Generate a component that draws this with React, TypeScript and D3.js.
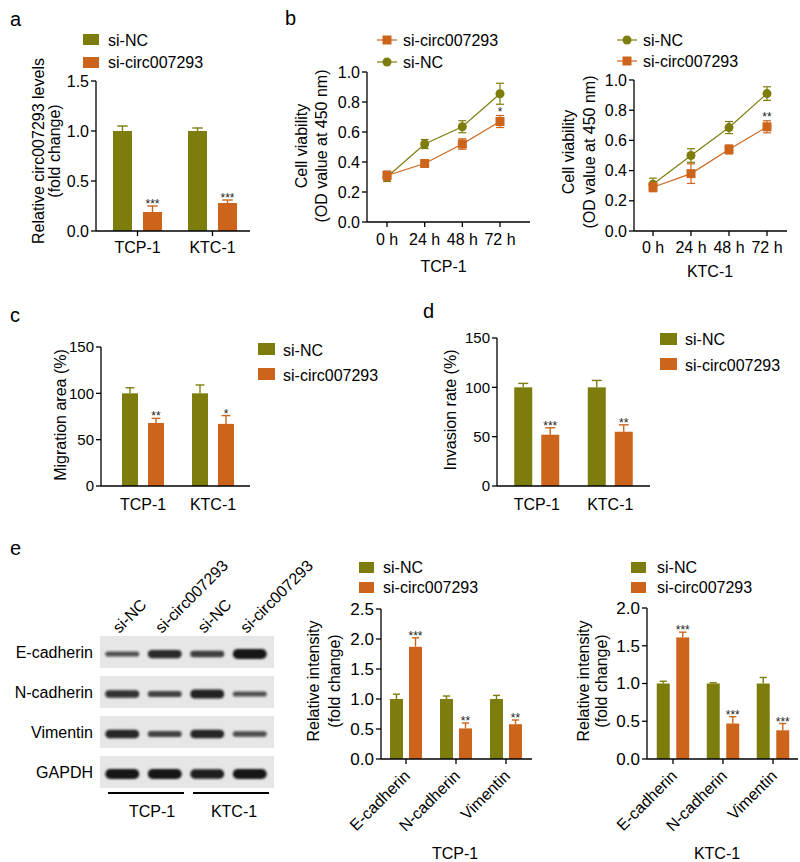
import React from "react";
import * as d3 from "d3";

const FONT = "'Liberation Sans', Arial, Helvetica, sans-serif";
const OLIVE = "#7d7d0e";
const ORANGE = "#cc651b";

// ---------- data ----------
const seriesNames = ["si-NC", "si-circ007293"];
const cellLines = ["TCP-1", "KTC-1"];

// a: relative circ007293 levels
const relCircNC = [1.0, 1.0];
const relCircNCErr = [0.05, 0.03];
const relCircKD = [0.19, 0.28];
const relCircKDErr = [0.06, 0.03];
const relCircStars = ["***", "***"];

// b: CCK-8 viability
const timeLabels = ["0 h", "24 h", "48 h", "72 h"];
const tcpViabNC = [0.3, 0.52, 0.635, 0.855];
const tcpViabNCErr = [0.03, 0.03, 0.04, 0.07];
const tcpViabKD = [0.31, 0.39, 0.52, 0.67];
const tcpViabKDErr = [0.03, 0.01, 0.035, 0.04];
const ktcViabNC = [0.31, 0.5, 0.685, 0.91];
const ktcViabNCErr = [0.04, 0.045, 0.04, 0.045];
const ktcViabKD = [0.29, 0.38, 0.54, 0.69];
const ktcViabKDErr = [0.03, 0.065, 0.03, 0.04];

// c: migration
const migrationNC = [100, 100];
const migrationNCErr = [6, 9];
const migrationKD = [68, 67];
const migrationKDErr = [5, 9];
const migrationStars = ["**", "*"];

// d: invasion
const invasionNC = [100, 100];
const invasionNCErr = [4, 7];
const invasionKD = [52, 55];
const invasionKDErr = [7, 7];
const invasionStars = ["***", "**"];

// e: western blot quantification
const emtMarkers = ["E-cadherin", "N-cadherin", "Vimentin"];
const tcpIntNC = [1.0, 1.0, 1.0];
const tcpIntNCErr = [0.08, 0.05, 0.06];
const tcpIntKD = [1.87, 0.51, 0.58];
const tcpIntKDErr = [0.15, 0.09, 0.07];
const tcpIntStars = ["***", "**", "**"];
const ktcIntNC = [1.0, 1.0, 1.0];
const ktcIntNCErr = [0.03, 0.01, 0.08];
const ktcIntKD = [1.61, 0.47, 0.38];
const ktcIntKDErr = [0.07, 0.09, 0.09];
const ktcIntStars = ["***", "***", "***"];

// e: blot
const blotRows = ["E-cadherin", "N-cadherin", "Vimentin", "GAPDH"];
const blotLanes = ["si-NC", "si-circ007293", "si-NC", "si-circ007293"];
const eCadBand = [0.3, 0.75, 0.5, 1.0];
const nCadBand = [0.65, 0.45, 0.85, 0.3];
const vimBand = [0.8, 0.45, 0.8, 0.35];
const gapdhBand = [1.0, 1.0, 0.9, 1.0];
const blotBands = [eCadBand, nCadBand, vimBand, gapdhBand];

// ---------- helpers ----------
function YAxis({ x, scale, ticks, fmt, fs = 16 }: any) {
  const [r0, r1] = scale.range();
  return (
    <g>
      <line x1={x} x2={x} y1={r0} y2={r1} stroke="#000" strokeWidth={1.3} />
      {ticks.map((t: number) => (
        <g key={t}>
          <line x1={x - 5} x2={x} y1={scale(t)} y2={scale(t)} stroke="#000" strokeWidth={1.3} />
          <text x={x - 7} y={scale(t)} dy="0.35em" textAnchor="end" fontSize={fs}>
            {fmt(t)}
          </text>
        </g>
      ))}
    </g>
  );
}

function VLabel({ x, y, text }: any) {
  return (
    <text transform={`translate(${x},${y}) rotate(-90)`} dy="0.35em" textAnchor="middle" fontSize={16}>
      {text}
    </text>
  );
}

function SquareLegend({ x, y1, y2, w, h, textX, b1, b2 }: any) {
  return (
    <g>
      <rect x={x} y={y1} width={w} height={h} fill={OLIVE} />
      <rect x={x} y={y2} width={w} height={h} fill={ORANGE} />
      <text x={textX} y={b1} fontSize={16}>{seriesNames[0]}</text>
      <text x={textX} y={b2} fontSize={16}>{seriesNames[1]}</text>
    </g>
  );
}

function BarChart(p: any) {
  const y = d3.scaleLinear().domain([0, p.yMax]).range([p.yBottom, p.yTop]);
  const xb = d3.scaleBand().domain(p.groups).range(p.bandRange).padding(0);
  const center = (g: string) => (xb(g) as number) + xb.bandwidth() / 2;
  const series = [
    { vals: p.nc, errs: p.ncErr, color: OLIVE, off: -p.barStep / 2, stars: null },
    { vals: p.kd, errs: p.kdErr, color: ORANGE, off: p.barStep / 2, stars: p.stars },
  ];
  const capW = p.barW * 0.55;
  return (
    <g>
      {series.map((s, si) =>
        p.groups.map((g: string, i: number) => {
          const cx = center(g) + s.off;
          const top = y(s.vals[i]);
          const et = y(s.vals[i] + s.errs[i]);
          return (
            <g key={si + "-" + i}>
              <rect x={cx - p.barW / 2} y={top} width={p.barW} height={p.yBottom - top} fill={s.color} />
              <line x1={cx} x2={cx} y1={top} y2={et} stroke={s.color} strokeWidth={1.4} />
              <line x1={cx - capW / 2} x2={cx + capW / 2} y1={et} y2={et} stroke={s.color} strokeWidth={1.4} />
              {s.stars && (
                <text x={cx} y={et + 2} textAnchor="middle" fontSize={12} fill="#222">
                  {s.stars[i]}
                </text>
              )}
            </g>
          );
        })
      )}
      <YAxis x={p.axisX} scale={y} ticks={p.yTicks} fmt={p.fmt} fs={p.tickFs || 16} />
      <line x1={p.axisX} x2={p.axisEnd} y1={p.yBottom} y2={p.yBottom} stroke="#000" strokeWidth={1.3} />
      {p.groups.map((g: string) => (
        <g key={g}>
          {p.xTicks && (
            <line x1={center(g)} x2={center(g)} y1={p.yBottom} y2={p.yBottom + 5} stroke="#000" strokeWidth={1.3} />
          )}
          {p.rotate ? (
            <text
              transform={`translate(${center(g) + 5},${p.yBottom + 18}) rotate(-45)`}
              textAnchor="end"
              fontSize={16}
            >
              {g}
            </text>
          ) : (
            <text x={center(g)} y={p.labelBaseline} textAnchor="middle" fontSize={16}>
              {g}
            </text>
          )}
        </g>
      ))}
    </g>
  );
}

function LineChart(p: any) {
  const y = d3.scaleLinear().domain([0, 1]).range([p.yBottom, p.yTop]);
  const x = d3.scalePoint().domain(timeLabels).range([p.xStart, p.xEnd]);
  const line = d3
    .line<number>()
    .x((_, i) => x(timeLabels[i]) as number)
    .y((d) => y(d));
  const series = [
    { vals: p.nc, errs: p.ncErr, color: OLIVE, shape: "circle" },
    { vals: p.kd, errs: p.kdErr, color: ORANGE, shape: "square" },
  ];
  return (
    <g>
      {series.map((s, si) => (
        <g key={si}>
          <path d={line(s.vals) as string} fill="none" stroke={s.color} strokeWidth={1.2} />
          {s.vals.map((v: number, i: number) => {
            const cx = x(timeLabels[i]) as number;
            const y1 = y(v - s.errs[i]);
            const y2 = y(v + s.errs[i]);
            return (
              <g key={i}>
                <line x1={cx} x2={cx} y1={y1} y2={y2} stroke={s.color} strokeWidth={1.2} />
                <line x1={cx - 4} x2={cx + 4} y1={y1} y2={y1} stroke={s.color} strokeWidth={1.2} />
                <line x1={cx - 4} x2={cx + 4} y1={y2} y2={y2} stroke={s.color} strokeWidth={1.2} />
                {s.shape === "circle" ? (
                  <circle cx={cx} cy={y(v)} r={4.5} fill={s.color} />
                ) : (
                  <rect x={cx - 4.5} y={y(v) - 4.5} width={9} height={9} fill={s.color} />
                )}
              </g>
            );
          })}
        </g>
      ))}
      <text
        x={x(timeLabels[3]) as number}
        y={y(p.kd[3] + p.kdErr[3])}
        textAnchor="middle"
        fontSize={12}
        fill="#222"
      >
        {p.star}
      </text>
      <YAxis x={p.axisX} scale={y} ticks={[0, 0.2, 0.4, 0.6, 0.8, 1.0]} fmt={d3.format(".1f")} />
      <line x1={p.axisX} x2={p.axisEnd} y1={p.yBottom} y2={p.yBottom} stroke="#000" strokeWidth={1.3} />
      {timeLabels.map((t) => (
        <g key={t}>
          <line x1={x(t) as number} x2={x(t) as number} y1={p.yBottom} y2={p.yBottom + 5} stroke="#000" strokeWidth={1.3} />
          <text x={x(t) as number} y={p.tickBaseline} textAnchor="middle" fontSize={16}>
            {t}
          </text>
        </g>
      ))}
      <text x={(p.xStart + p.xEnd) / 2} y={p.titleBaseline} textAnchor="middle" fontSize={16}>
        {p.title}
      </text>
    </g>
  );
}

function LineLegend({ x, textX, entries }: any) {
  return (
    <g>
      {entries.map((e: any, i: number) => (
        <g key={i}>
          <line x1={x - 10} x2={x + 10} y1={e.y} y2={e.y} stroke={e.color} strokeWidth={1.2} />
          {e.shape === "circle" ? (
            <circle cx={x} cy={e.y} r={4.5} fill={e.color} />
          ) : (
            <rect x={x - 4.5} y={e.y - 4.5} width={9} height={9} fill={e.color} />
          )}
          <text x={textX} y={e.y + 6} fontSize={16}>
            {e.label}
          </text>
        </g>
      ))}
    </g>
  );
}

function Blot() {
  const lanes = d3.scaleBand().domain(d3.range(4).map(String)).range([101, 271]).padding(0);
  const rows = d3.scaleBand().domain(blotRows).range([636, 788]).paddingInner(0.2);
  const laneC = (i: number) => (lanes(String(i)) as number) + lanes.bandwidth() / 2;
  return (
    <g>
      {blotRows.map((r, ri) => {
        const ry = rows(r) as number;
        const cy = ry + rows.bandwidth() / 2;
        return (
          <g key={r}>
            <rect x={100} y={ry} width={174} height={rows.bandwidth()} fill="#e6e6e6" />
            {blotBands[ri].map((s, li) => {
              const th = 3 + 7 * s;
              return (
                <rect
                  key={li}
                  x={laneC(li) - 17}
                  y={cy + 2 - th / 2}
                  width={34}
                  height={th}
                  rx={th / 2}
                  fill="#161616"
                  opacity={0.6 + 0.4 * s}
                  filter="url(#blur)"
                />
              );
            })}
            <text x={93} y={cy + 6} textAnchor="end" fontSize={16}>
              {r}
            </text>
          </g>
        );
      })}
      {blotLanes.map((l, i) => (
        <text key={i} transform={`translate(${laneC(i) - 3},634) rotate(-45)`} fontSize={16}>
          {l}
        </text>
      ))}
      <line x1={108} x2={184} y1={793} y2={793} stroke="#000" strokeWidth={2} />
      <line x1={193} x2={269} y1={793} y2={793} stroke="#000" strokeWidth={2} />
      <text x={152} y={817} textAnchor="middle" fontSize={16}>{cellLines[0]}</text>
      <text x={234} y={817} textAnchor="middle" fontSize={16}>{cellLines[1]}</text>
    </g>
  );
}

export default function App() {
  const f1 = d3.format(".1f");
  const f0 = d3.format("d");
  return (
    <svg
      width={800}
      height={862}
      style={{ position: "absolute", left: 0, top: 0, background: "#fff" }}
      fontFamily={FONT}
    >
      <defs>
        <filter id="blur" x="-20%" y="-100%" width="140%" height="300%">
          <feGaussianBlur stdDeviation="1.3" />
        </filter>
      </defs>
      <rect width={800} height={862} fill="#fff" />

      {/* panel labels */}
      <text x={10} y={26} fontSize={20}>a</text>
      <text x={285} y={25} fontSize={20}>b</text>
      <text x={10} y={322} fontSize={20}>c</text>
      <text x={423} y={318} fontSize={20}>d</text>
      <text x={10} y={555} fontSize={20}>e</text>

      {/* a */}
      <SquareLegend x={83} y1={34} y2={57} w={16} h={11} textX={108} b1={46} b2={68} />
      <VLabel x={38} y={151} text="Relative circ007293 levels" />
      <VLabel x={54} y={151} text="(fold change)" />
      <BarChart
        axisX={96} axisEnd={250} yBottom={231} yTop={81} yMax={1.5}
        yTicks={[0, 0.5, 1.0, 1.5]} fmt={f1} groups={cellLines} bandRange={[100, 250]}
        nc={relCircNC} ncErr={relCircNCErr} kd={relCircKD} kdErr={relCircKDErr} stars={relCircStars}
        barW={19} barStep={30} xTicks={true} labelBaseline={253}
      />

      {/* b left */}
      <LineLegend
        x={387} textX={403}
        entries={[
          { y: 40, color: ORANGE, shape: "square", label: seriesNames[1] },
          { y: 62, color: OLIVE, shape: "circle", label: seriesNames[0] },
        ]}
      />
      <VLabel x={301} y={146} text="Cell viability" />
      <VLabel x={321} y={146} text="(OD value at 450 nm)" />
      <LineChart
        axisX={367} axisEnd={530} yBottom={222} yTop={72} xStart={387} xEnd={500}
        nc={tcpViabNC} ncErr={tcpViabNCErr} kd={tcpViabKD} kdErr={tcpViabKDErr}
        star="*" title={cellLines[0]} tickBaseline={245} titleBaseline={272}
      />

      {/* b right */}
      <LineLegend
        x={627} textX={643}
        entries={[
          { y: 40, color: OLIVE, shape: "circle", label: seriesNames[0] },
          { y: 61, color: ORANGE, shape: "square", label: seriesNames[1] },
        ]}
      />
      <VLabel x={568} y={152} text="Cell viability" />
      <VLabel x={589} y={152} text="(OD value at 450 nm)" />
      <LineChart
        axisX={634} axisEnd={787} yBottom={231} yTop={80} xStart={653} xEnd={767}
        nc={ktcViabNC} ncErr={ktcViabNCErr} kd={ktcViabKD} kdErr={ktcViabKDErr}
        star="**" title={cellLines[1]} tickBaseline={253} titleBaseline={277}
      />

      {/* c */}
      <SquareLegend x={258} y1={343} y2={368} w={17} h={12} textX={283} b1={356} b2={381} />
      <VLabel x={60} y={415} text="Migration area (%)" />
      <BarChart
        axisX={101} axisEnd={250} yBottom={486} yTop={347} yMax={150}
        yTicks={[0, 50, 100, 150]} fmt={f0} groups={cellLines} bandRange={[108, 248]}
        nc={migrationNC} ncErr={migrationNCErr} kd={migrationKD} kdErr={migrationKDErr} stars={migrationStars}
        barW={16} barStep={26} xTicks={false} labelBaseline={510} tickFs={15}
      />

      {/* d */}
      <SquareLegend x={660} y1={333} y2={358} w={17} h={12} textX={685} b1={345} b2={371} />
      <VLabel x={450} y={410} text="Invasion rate (%)" />
      <BarChart
        axisX={497} axisEnd={650} yBottom={486} yTop={338} yMax={150}
        yTicks={[0, 50, 100, 150]} fmt={f0} groups={cellLines} bandRange={[500, 647]}
        nc={invasionNC} ncErr={invasionNCErr} kd={invasionKD} kdErr={invasionKDErr} stars={invasionStars}
        barW={18} barStep={27} xTicks={false} labelBaseline={510} tickFs={15}
      />

      {/* e blot */}
      <Blot />

      {/* e TCP-1 */}
      <SquareLegend x={359} y1={562} y2={582} w={15} h={11} textX={383} b1={573} b2={593} />
      <VLabel x={313} y={681} text="Relative intensity" />
      <VLabel x={334} y={681} text="(fold change)" />
      <BarChart
        axisX={381} axisEnd={532} yBottom={759} yTop={609} yMax={2.5}
        yTicks={[0, 0.5, 1.0, 1.5, 2.0, 2.5]} fmt={f1} groups={emtMarkers} bandRange={[381, 531]}
        nc={tcpIntNC} ncErr={tcpIntNCErr} kd={tcpIntKD} kdErr={tcpIntKDErr} stars={tcpIntStars}
        barW={13} barStep={19} xTicks={true} rotate={true} tickFs={17}
      />
      <text x={455} y={859} textAnchor="middle" fontSize={16}>{cellLines[0]}</text>

      {/* e KTC-1 */}
      <SquareLegend x={631} y1={562} y2={582} w={15} h={11} textX={657} b1={573} b2={593} />
      <VLabel x={583} y={681} text="Relative intensity" />
      <VLabel x={601} y={681} text="(fold change)" />
      <BarChart
        axisX={647} axisEnd={798} yBottom={759} yTop={608} yMax={2.0}
        yTicks={[0, 0.5, 1.0, 1.5, 2.0]} fmt={f1} groups={emtMarkers} bandRange={[648, 798]}
        nc={ktcIntNC} ncErr={ktcIntNCErr} kd={ktcIntKD} kdErr={ktcIntKDErr} stars={ktcIntStars}
        barW={13} barStep={19.5} xTicks={true} rotate={true} tickFs={17}
      />
      <text x={717} y={859} textAnchor="middle" fontSize={16}>{cellLines[1]}</text>
    </svg>
  );
}
